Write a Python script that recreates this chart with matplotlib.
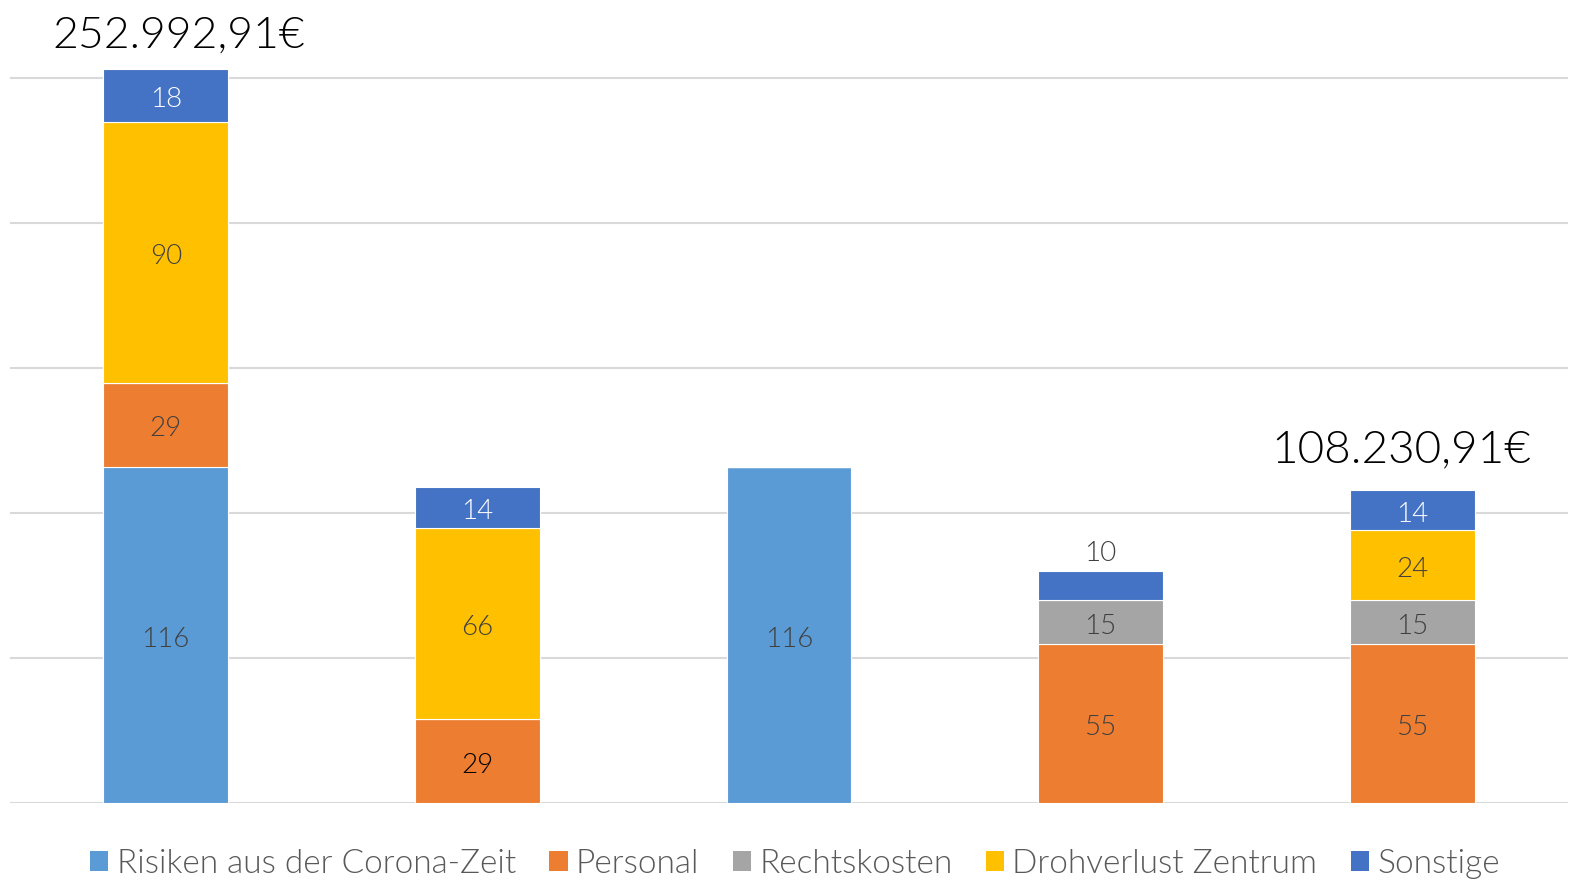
import os
import numpy as np
import matplotlib.pyplot as plt
from matplotlib import font_manager as fm
from matplotlib.patches import Patch

plt.rcParams['font.family'] = ['Lato', 'DejaVu Sans']

# pick the older Lato Light (the one shipped next to Lato-Hairline), it is a bit heavier
lights = [f.fname for f in fm.fontManager.ttflist if f.fname.endswith("Lato-Light.ttf")]
hair_dirs = {os.path.dirname(f.fname) for f in fm.fontManager.ttflist if f.fname.endswith("Lato-Hairline.ttf")}
light_file = next((p for p in lights if os.path.dirname(p) in hair_dirs), lights[0] if lights else None)

def fprop(size):
    if light_file:
        return fm.FontProperties(fname=light_file, size=size)
    return fm.FontProperties(family="Lato", weight="light", size=size)

# data (in thousand euro)
series = ["Risiken aus der Corona-Zeit", "Personal", "Rechtskosten", "Drohverlust Zentrum", "Sonstige"]
risiken  = [116, 0, 116, 0, 0]
personal = [29, 29, 0, 55, 55]
recht    = [0, 0, 0, 15, 15]
droh     = [90, 66, 0, 0, 24]
sonstige = [18, 14, 0, 10, 14]
totals_text = ["252.992,91€", None, None, None, "108.230,91€"]

colors = ["#5B9BD5", "#ED7D31", "#A5A5A5", "#FFC000", "#4472C4"]
label_colors = ["#404040", "#404040", "#404040", "#404040", "white"]

fig = plt.figure(figsize=(15.71, 8.8), dpi=100)
ax = fig.add_axes([10/1571, 77/880, 1558/1571, 803/880])

x = np.arange(5)
data = [risiken, personal, recht, droh, sonstige]
bottom = np.zeros(5)
for k, vals in enumerate(data):
    vals = np.array(vals, dtype=float)
    ax.bar(x, vals, width=0.4, bottom=bottom, color=colors[k], edgecolor="white", linewidth=0.8, zorder=3)
    for i in range(5):
        if vals[i] <= 0:
            continue
        yc = bottom[i] + vals[i] / 2 - 1.5
        col = label_colors[k]
        if k == 4 and vals[i] < 12:
            # too small: label above the bar
            yc = bottom[i] + vals[i] + 6
            col = "#404040"
        if k == 1 and i == 1:
            col = "black"
        ax.text(x[i], yc, str(int(vals[i])), ha="center", va="center",
                fontproperties=fprop(20), color=col, zorder=4)
    bottom += vals

offsets = [(0.04, 7.5, 32), None, None, None, (-0.035, 9.5, 33)]
for i, t in enumerate(totals_text):
    if t:
        dx, dy, fs = offsets[i]
        ax.text(x[i] + dx, bottom[i] + dy, t, ha="center", va="baseline",
                fontproperties=fprop(fs), color="black", zorder=4)

ax.set_xlim(-0.5, 4.5)
ax.set_ylim(0, 803/2.9)
ax.set_yticks(np.arange(0, 251, 50))
ax.yaxis.grid(True, color="#D9D9D9", linewidth=1.5, zorder=0)
ax.tick_params(left=False, bottom=False, labelleft=False, labelbottom=False)
for s in ax.spines.values():
    s.set_visible(False)

handles = [Patch(facecolor=c, label=s) for c, s in zip(colors, series)]
fig.legend(handles=handles, loc="center", bbox_to_anchor=(795/1571, 1 - 864/880), ncol=5,
           frameon=False, handlelength=0.55, handleheight=0.55, handletextpad=0.25,
           columnspacing=1.0, labelcolor="#595959", prop=fprop(24))

fig.savefig("out.png", dpi=100)
